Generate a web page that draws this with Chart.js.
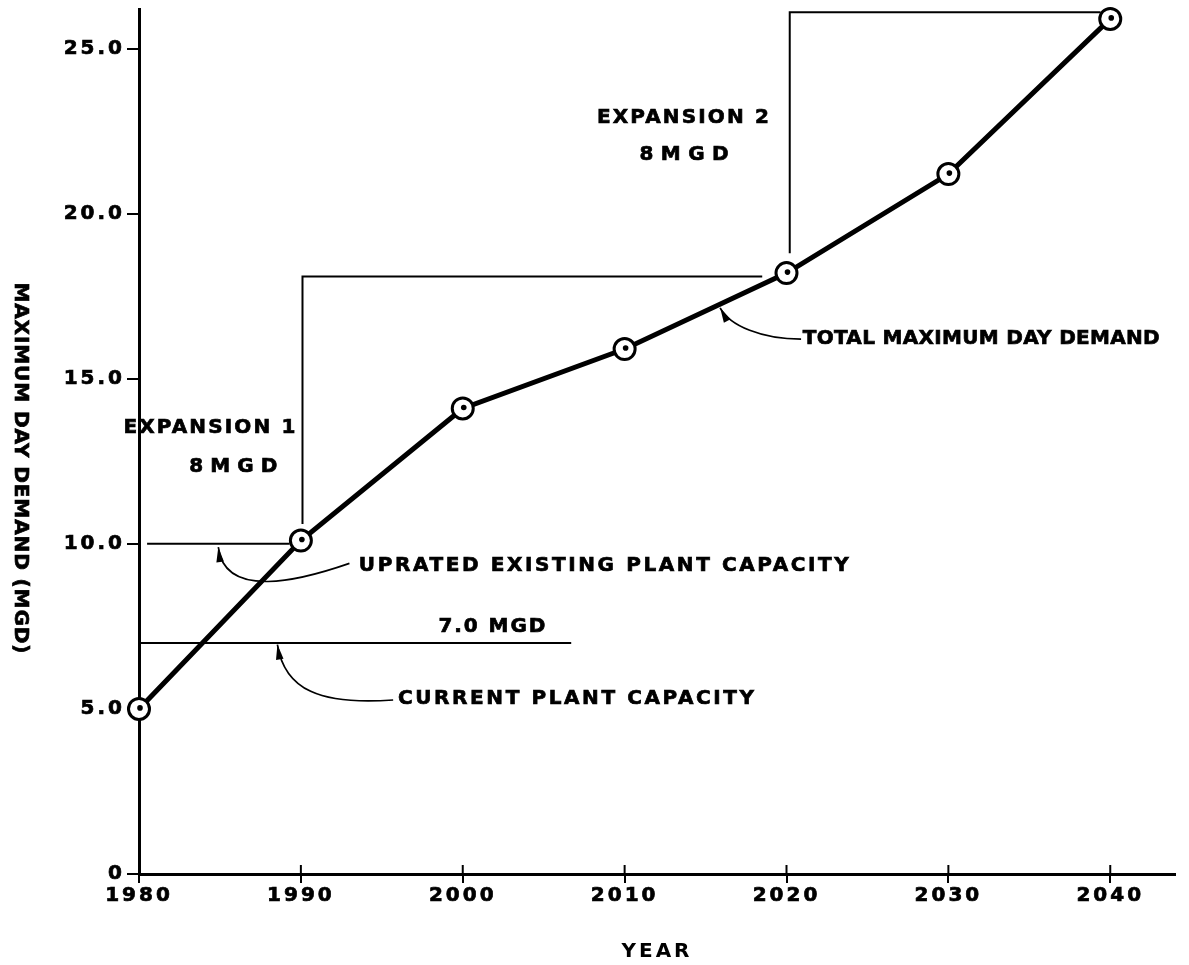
<!DOCTYPE html>
<html>
<head>
<meta charset="utf-8">
<title>Maximum Day Demand</title>
<script src="https://cdn.jsdelivr.net/npm/chart.js@4.4.1/dist/chart.umd.min.js"></script>
<style>
  html, body { margin: 0; padding: 0; background: #fff; }
  #wrap { width: 1189px; height: 965px; }
</style>
</head>
<body>
<div id="wrap"><canvas id="demandChart" width="1189" height="965"></canvas></div>
<script>
// values
const years = [1980, 1990, 2000, 2010, 2020, 2030, 2040];
const demand = [5.0, 10.1, 14.1, 15.9, 18.2, 21.2, 25.9];
const yTicks = [0, 5, 10, 15, 20, 25];

// capacity step lines, [year, MGD]
const currentCapacity = [[1980, 7.0], [2006.7, 7.0]];
const upratedCapacity = [[1980.5, 10.0], [1989.3, 10.0]];
const expansion1 = [[1990.1, 10.6], [1990.1, 18.1], [2018.5, 18.1]];
const expansion2 = [[2020.2, 18.8], [2020.2, 26.1], [2039.4, 26.1]];

const yTitle = 'MAXIMUM DAY DEMAND (MGD)';
const FONT = '"DejaVu Sans", "Liberation Sans", sans-serif';

// annotation text, placed in data units (x = year, y = MGD), w = target width in px
const notes = [
    { text: 'EXPANSION 1', x: 1984.35, y: 13.53, w: 172, align: 'center' },
    { text: '8 M G D', x: 1985.83, y: 12.32, w: 88, align: 'center' },
    { text: 'EXPANSION 2', x: 2013.6, y: 22.91, w: 172, align: 'center' },
    { text: '8 M G D', x: 2013.67, y: 21.79, w: 89, align: 'center' },
    { text: 'UPRATED EXISTING PLANT CAPACITY', x: 1993.58, y: 9.35, w: 490, align: 'left' },
    { text: '7.0 MGD', x: 2001.8, y: 7.5, w: 107, align: 'center' },
    { text: 'CURRENT PLANT CAPACITY', x: 1996.0, y: 5.3, w: 356, align: 'left' },
    { text: 'TOTAL MAXIMUM DAY DEMAND', x: 2021.0, y: 16.22, w: 357, align: 'left' }
];

// curved leaders: start, control 1, control 2, arrow tip
const leaders = [
    [[1993.0, 9.41], [1990.0, 8.9], [1985.3, 8.29], [1984.9, 9.9]],
    [[1995.7, 5.27], [1991.2, 5.11], [1989.0, 5.57], [1988.55, 6.95]],
    [[2020.9, 16.2], [2018.5, 16.2], [2016.5, 16.6], [2015.9, 17.15]]
];

const toPoints = arr => arr.map(([x, y]) => ({ x, y }));

function drawSpaced(ctx, text, x, y, width, align) {
    ctx.letterSpacing = '0px';
    const w0 = ctx.measureText(text).width;
    const gap = (width - w0) / (text.length - 1);
    ctx.letterSpacing = gap + 'px';
    ctx.textAlign = 'left';
    const left = align === 'center' ? x - width / 2 : x;
    ctx.strokeText(text, left, y);
    ctx.fillText(text, left, y);
}

const annotate = {
    id: 'annotate',
    beforeDraw(chart) {
        chart.ctx.letterSpacing = '3px';
    },
    afterDatasetsDraw(chart) {
        const { ctx, chartArea } = chart;
        const xs = chart.scales.x, ys = chart.scales.y;
        const px = ([a, b]) => [xs.getPixelForValue(a), ys.getPixelForValue(b)];
        ctx.save();
        ctx.strokeStyle = '#000';
        ctx.fillStyle = '#000';

        // x ticks cross the axis, draw the inner half
        ctx.lineWidth = 2;
        years.forEach(v => {
            const x = xs.getPixelForValue(v);
            ctx.beginPath();
            ctx.moveTo(x, chartArea.bottom);
            ctx.lineTo(x, chartArea.bottom - 9);
            ctx.stroke();
        });

        // dot in the middle of each demand marker
        chart.getDatasetMeta(0).data.forEach(pt => {
            ctx.beginPath();
            ctx.arc(pt.x + 1, pt.y - 1, 2.8, 0, Math.PI * 2);
            ctx.fill();
        });

        // leaders with arrow heads
        ctx.lineWidth = 1.7;
        leaders.forEach(l => {
            const p = l.map(px);
            ctx.beginPath();
            ctx.moveTo(p[0][0], p[0][1]);
            ctx.bezierCurveTo(p[1][0], p[1][1], p[2][0], p[2][1], p[3][0], p[3][1]);
            ctx.stroke();
            const dx = p[3][0] - p[2][0], dy = p[3][1] - p[2][1];
            const len = Math.hypot(dx, dy);
            const ux = dx / len, uy = dy / len;
            const bx = p[3][0] - ux * 15, by = p[3][1] - uy * 15;
            ctx.beginPath();
            ctx.moveTo(p[3][0], p[3][1]);
            ctx.lineTo(bx - uy * 3.8, by + ux * 3.8);
            ctx.lineTo(bx + uy * 3.8, by - ux * 3.8);
            ctx.closePath();
            ctx.fill();
        });

        // annotation text
        ctx.font = 'bold 20px ' + FONT;
        ctx.textBaseline = 'middle';
        ctx.lineWidth = 0.7;
        notes.forEach(n => {
            const [x, y] = px([n.x, n.y]);
            drawSpaced(ctx, n.text, x, y, n.w, n.align);
        });

        // y title reads top to bottom
        ctx.save();
        ctx.translate(20, ys.getPixelForValue(12.3));
        ctx.rotate(Math.PI / 2);
        drawSpaced(ctx, yTitle, 0, 0, 371, 'center');
        ctx.restore();

        ctx.restore();
    }
};

const lineStyle = { borderColor: '#000', borderWidth: 2, pointRadius: 0, clip: false };
const tickFont = { family: FONT, size: 20, weight: 'bold' };

new Chart(document.getElementById('demandChart'), {
    type: 'line',
    data: {
        datasets: [
            {
                data: years.map((yr, i) => ({ x: yr, y: demand[i] })),
                borderColor: '#000',
                borderWidth: 5,
                pointRadius: 10.5,
                pointBorderWidth: 3,
                pointBackgroundColor: '#fff',
                pointBorderColor: '#000',
                clip: false
            },
            { data: toPoints(currentCapacity), ...lineStyle },
            { data: toPoints(upratedCapacity), ...lineStyle },
            { data: toPoints(expansion1), ...lineStyle },
            { data: toPoints(expansion2), ...lineStyle }
        ]
    },
    options: {
        responsive: false,
        animation: false,
        devicePixelRatio: 1,
        layout: { autoPadding: false, padding: { top: 9, right: 14, left: 0, bottom: 0 } },
        plugins: { legend: { display: false }, tooltip: { enabled: false } },
        scales: {
            x: {
                type: 'linear',
                min: 1980,
                max: 2044,
                afterBuildTicks: s => { s.ticks = years.map(v => ({ value: v })); },
                afterFit: s => { s.height = 91; },
                grid: { drawOnChartArea: false, tickLength: 9, color: '#000', lineWidth: 2 },
                border: { display: true, color: '#000', width: 3 },
                ticks: {
                    color: '#000',
                    padding: 1,
                    maxRotation: 0,
                    textStrokeColor: '#000',
                    textStrokeWidth: 0.7,
                    font: tickFont,
                    callback: v => String(v)
                },
                title: {
                    display: true,
                    text: 'YEAR',
                    color: '#000',
                    padding: { top: 0, bottom: 1 },
                    font: tickFont
                }
            },
            y: {
                min: 0,
                max: 26.2,
                afterBuildTicks: s => { s.ticks = yTicks.map(v => ({ value: v })); },
                afterFit: s => {
                    s.width = 139;
                    s.paddingTop = 0;
                    s.paddingBottom = 0;
                },
                grid: { drawOnChartArea: false, tickLength: 12, color: '#000', lineWidth: 2 },
                border: { display: true, color: '#000', width: 3 },
                ticks: {
                    color: '#000',
                    padding: 2,
                    textStrokeColor: '#000',
                    textStrokeWidth: 0.7,
                    font: tickFont,
                    callback: v => v === 0 ? '0' : v.toFixed(1)
                }
            }
        }
    },
    plugins: [annotate]
});
</script>
</body>
</html>
